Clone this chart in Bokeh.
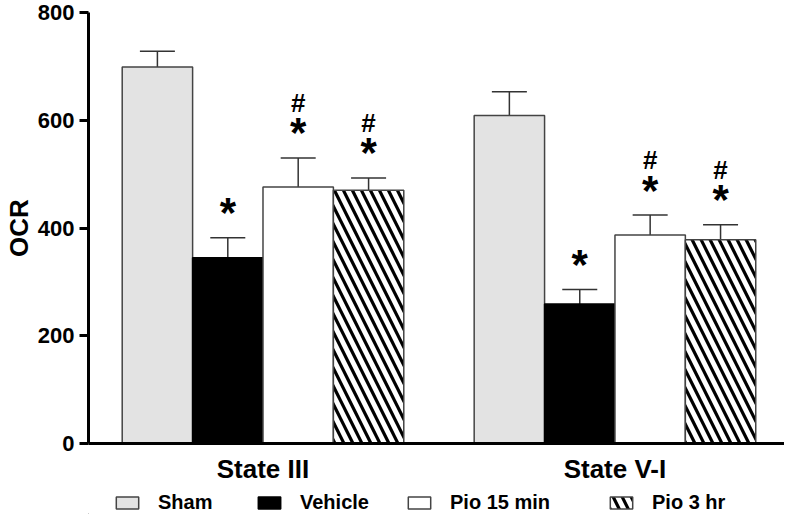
from bokeh.plotting import figure
from bokeh.layouts import column
from bokeh.models import (ColumnDataSource, Whisker, TeeHead, FixedTicker, Legend, LegendItem, Range1d)
from bokeh.core.properties import value
from bokeh.embed import file_html
from bokeh.resources import INLINE

# ---- data ----
states = ["State III", "State V-I"]
treatments = ["Sham", "Vehicle", "Pio 15 min", "Pio 3 hr"]
sham_mean = [699, 609]
vehicle_mean = [345, 259]
pio15_mean = [476, 387]
pio3_mean = [470, 378]
sham_sem = [29, 44]
vehicle_sem = [37, 27]
pio15_sem = [54, 37]
pio3_sem = [23, 28]
# significance: * vs Sham, # vs Vehicle
star_vs_sham = [[False, False], [True, True], [True, True], [True, True]]
hash_vs_vehicle = [[False, False], [False, False], [True, True], [True, True]]
y_ticks = [0, 200, 400, 600, 800]

means = [sham_mean, vehicle_mean, pio15_mean, pio3_mean]
sems = [sham_sem, vehicle_sem, pio15_sem, pio3_sem]

FONT = "Liberation Sans"
GROUP_STEP = 5  # 4 bars + 1 bar gap

p = figure(width=784, height=487, output_backend="svg", toolbar_location=None,
           x_range=Range1d(-34 / 71, 668 / 71), y_range=Range1d(0, 800),
           min_border_left=82, min_border_right=0, min_border_top=12, min_border_bottom=44)
p.outline_line_color = None
p.xgrid.grid_line_color = None
p.ygrid.grid_line_color = None
p.background_fill_color = "white"

styles = [
    dict(fill_color="#e3e3e3", line_color="#444444"),
    dict(fill_color="black", line_color="black"),
    dict(fill_color="white", line_color="#444444"),
    dict(fill_color="white", line_color="#444444", hatch_pattern="\\", hatch_color="black",
         hatch_scale=18, hatch_weight=3.2),
]

wx, wl, wu = [], [], []
sx, sy, hx, hy = [], [], [], []
for j, name in enumerate(treatments):
    xs = [g * GROUP_STEP + j + 0.5 for g in range(len(states))]
    src = ColumnDataSource(dict(x=xs, top=means[j]))
    p.vbar(x="x", top="top", width=1, source=src, line_width=1.5, **styles[j])
    for g in range(len(states)):
        up = means[j][g] + sems[j][g]
        wx.append(xs[g]); wl.append(means[j][g]); wu.append(up)
        if star_vs_sham[j][g]:
            sx.append(xs[g]); sy.append(up)
        if hash_vs_vehicle[j][g]:
            hx.append(xs[g]); hy.append(up)

wsrc = ColumnDataSource(dict(base=wx, lower=wl, upper=wu))
w = Whisker(base="base", lower="lower", upper="upper", source=wsrc, dimension="height",
            line_color="#333333", line_width=1.5, lower_head=None,
            upper_head=TeeHead(size=35, line_color="#333333", line_width=1.5))
p.add_layout(w)

p.text(x=sx, y=sy, text=["*"] * len(sx), y_offset=-25, text_align="center",
       text_baseline="alphabetic", text_font=value(FONT), text_font_style="bold",
       text_font_size="42px", text_color="black")
p.text(x=hx, y=hy, text=["#"] * len(hx), y_offset=-55, text_align="center",
       text_baseline="alphabetic", text_font=value(FONT), text_font_style="bold",
       text_font_size="26px", text_color="black")

# axes
ya = p.yaxis[0]
ya.ticker = FixedTicker(ticks=y_ticks)
ya.axis_line_width = 3
ya.major_tick_line_width = 3
ya.major_tick_out = 9
ya.major_tick_in = 0
ya.minor_tick_line_color = None
ya.major_label_text_font = FONT
ya.major_label_text_font_style = "bold"
ya.major_label_text_font_size = "22px"
ya.major_label_text_color = "black"
ya.major_label_standoff = 5
ya.axis_label = "OCR"
ya.axis_label_text_font = FONT
ya.axis_label_text_font_style = "bold"
ya.axis_label_text_font_size = "26px"
ya.axis_label_text_color = "black"
ya.axis_label_standoff = 1

xa = p.xaxis[0]
centers = [g * GROUP_STEP + 2 for g in range(len(states))]
xa.ticker = FixedTicker(ticks=centers)
xa.major_label_overrides = {c: s for c, s in zip(centers, states)}
xa.axis_line_width = 3
xa.major_tick_line_color = None
xa.minor_tick_line_color = None
xa.major_tick_out = 0
xa.major_tick_in = 0
xa.major_label_text_font = FONT
xa.major_label_text_font_style = "bold"
xa.major_label_text_font_size = "26px"
xa.major_label_text_color = "black"
xa.major_label_standoff = 10

# legend strip below the chart (one legend per item to reproduce the spacing)
q = figure(width=784, height=27, output_backend="svg", toolbar_location=None, title=None,
           x_axis_type=None, y_axis_type=None, x_range=Range1d(0, 1), y_range=Range1d(0, 1),
           min_border_left=0, min_border_right=0, min_border_top=0, min_border_bottom=0)
q.outline_line_color = None
q.xgrid.grid_line_color = None
q.ygrid.grid_line_color = None
leg_x = [25, 167, 317, 519]  # offsets from the (aligned) frame's left edge
for j, name in enumerate(treatments):
    # legend swatch carrier, placed outside the visible range
    r = q.vbar(x=[-5], top=[0], width=0.1, line_width=1.5, **styles[j])
    leg = Legend(items=[LegendItem(label=name, renderers=[r])],
                 location=(leg_x[j], 0), orientation="horizontal",
                 border_line_color=None, background_fill_alpha=0, padding=0, margin=0,
                 glyph_width=28, glyph_height=15, label_standoff=17,
                 label_text_font=FONT, label_text_font_style="bold",
                 label_text_font_size="20px", label_text_color="black", spacing=0)
    q.add_layout(leg)

layout = column(p, q, spacing=0)
open("out.html", "w").write(file_html(layout, INLINE))
